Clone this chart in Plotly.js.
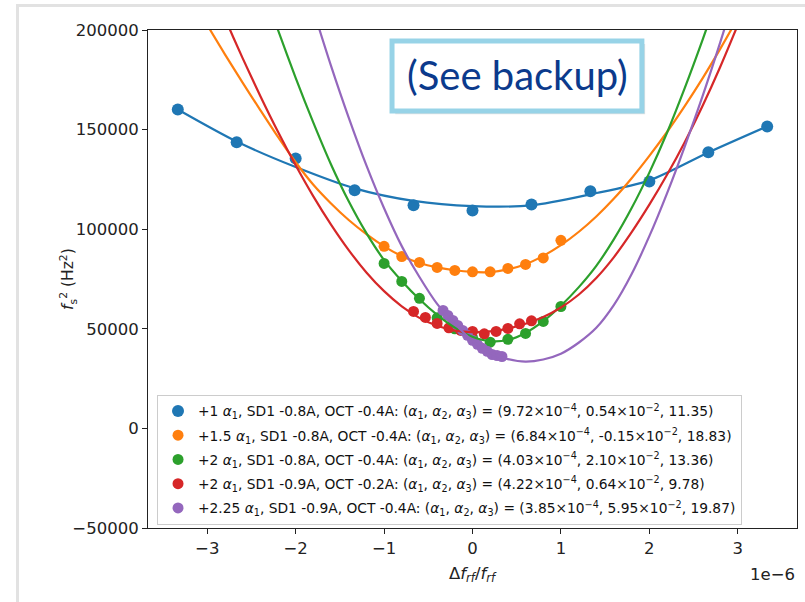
<!DOCTYPE html>
<html>
<head>
<meta charset="utf-8">
<script src="https://cdn.plot.ly/plotly-3.0.1.min.js"></script>
<style>
  html, body { margin: 0; padding: 0; background: #ffffff; }
  #frame { position: absolute; left: 16px; top: 4px; width: 900px; height: 700px;
           border: 3px solid #e2e2e2; box-sizing: border-box; }
  #chart { position: absolute; left: 0; top: 0; width: 805px; height: 602px; }
</style>
</head>
<body>
<div id="frame"></div>
<div id="chart"></div>
<script>
// ---- measured points (x in units of 1e-6) ----
const blueX   = [-3.333, -2.667, -2.0, -1.333, -0.667, 0.0, 0.667, 1.333, 2.0, 2.667, 3.333];
const blueY   = [160100, 143600, 135500, 119500, 112000, 109400, 112400, 119000, 124000, 138600, 151600];

const orangeX = [-1.0, -0.8, -0.6, -0.4, -0.2, 0.0, 0.2, 0.4, 0.6, 0.8, 1.0];
const orangeY = [91400, 86300, 83300, 80800, 79300, 78600, 78600, 80300, 82300, 85600, 94400];

const greenX  = [-1.0, -0.8, -0.6, -0.4, -0.2, 0.0, 0.2, 0.4, 0.6, 0.8, 1.0];
const greenY  = [82800, 73800, 65300, 55500, 50000, 45500, 43300, 44700, 47700, 53700, 61200];

const redX    = [-0.667, -0.533, -0.4, -0.267, -0.133, 0.0, 0.133, 0.267, 0.4, 0.533, 0.667];
const redY    = [58700, 55700, 52700, 50500, 49200, 48700, 47500, 48700, 50200, 52500, 54000];

const purpleX = [-0.333, -0.278, -0.222, -0.167, -0.111, -0.056, 0.0, 0.056, 0.111, 0.167, 0.222, 0.278, 0.333];
const purpleY = [59200, 56700, 54200, 51700, 49200, 46700, 44200, 42200, 40200, 38700, 37100, 36600, 36100];

// ---- fitted curves ----
const blueFitX   = [-3.333, -2.667, -2.0, -1.333, -0.667, 0.0, 0.667, 1.333, 2.0, 2.667, 3.333];
const blueFitY   = [160100, 144000, 131200, 120500, 114200, 111600, 112000, 117500, 124500, 138500, 151600];

const orangeFitX = [-3.0, -2.8, -2.6, -2.4, -2.2, -2.0, -1.8, -1.6, -1.4, -1.2, -1.0, -0.8, -0.6, -0.4, -0.2, 0.0,
                    0.2, 0.4, 0.6, 0.8, 1.0, 1.2, 1.4, 1.6, 1.8, 2.0, 2.2, 2.4, 2.6, 2.8, 3.0];
const orangeFitY = [202500, 187800, 173600, 159800, 146300, 133600, 122300, 112900, 104600, 97500, 91400, 86500, 83000, 80800, 79400, 78600,
                    78400, 79800, 82400, 86600, 92000, 98600, 106400, 115400, 125600, 136800, 148800, 161800, 175600, 190400, 206000];

const greenFitX  = [-2.4, -2.2, -2.0, -1.8, -1.6, -1.4, -1.2, -1.0, -0.8, -0.6, -0.4, -0.2, 0.0,
                    0.2, 0.4, 0.6, 0.8, 1.0, 1.2, 1.4, 1.6, 1.8, 2.0, 2.2, 2.4, 2.6, 2.8];
const greenFitY  = [225000, 200000, 176000, 153500, 132500, 114000, 98000, 84500, 74000, 64800, 57000, 50600, 46000,
                    43800, 44400, 47900, 53800, 61600, 70800, 81600, 95000, 110600, 128400, 148400, 170800, 194800, 220000];

const redFitX    = [-3.0, -2.8, -2.6, -2.4, -2.2, -2.0, -1.8, -1.6, -1.4, -1.2, -1.0, -0.8, -0.6, -0.4, -0.2, 0.0,
                    0.2, 0.4, 0.6, 0.8, 1.0, 1.2, 1.4, 1.6, 1.8, 2.0, 2.2, 2.4, 2.6, 2.8, 3.0];
const redFitY    = [227000, 205900, 185900, 166900, 148900, 132100, 116500, 102300, 89500, 78300, 68900, 61300, 55500, 51500, 49100, 48300,
                    48700, 50100, 52500, 55900, 60700, 67100, 75500, 86000, 98500, 112300, 127300, 143700, 161700, 181300, 202500];

const purpleFitX = [-1.8, -1.6, -1.4, -1.2, -1.0, -0.8, -0.6, -0.4, -0.2, 0.0, 0.2, 0.4, 0.6,
                    0.8, 1.0, 1.2, 1.4, 1.6, 1.8, 2.0, 2.2, 2.4, 2.6, 2.8, 3.0];
const purpleFitY = [210000, 182000, 156000, 132000, 110500, 91500, 76000, 62500, 52500, 44000, 37800, 34800, 33500,
                    34600, 37500, 43000, 50500, 62000, 77500, 96500, 118000, 141500, 166500, 193500, 222000];

// ---- labels ----
const kicks = ["+1", "+1.5", "+2", "+2", "+2.25"];
const sd1   = ["-0.8A", "-0.8A", "-0.8A", "-0.9A", "-0.9A"];
const oct   = ["-0.4A", "-0.4A", "-0.4A", "-0.2A", "-0.4A"];
const a1    = ["9.72", "6.84", "4.03", "4.22", "3.85"];
const a2    = ["0.54", "-0.15", "2.10", "0.64", "5.95"];
const a3    = ["11.35", "18.83", "13.36", "9.78", "19.87"];
const colors = ["#1f77b4", "#ff7f0e", "#2ca02c", "#d62728", "#9467bd"];

const xTickVals = [-3, -2, -1, 0, 1, 2, 3];
const xTickText = ["\u22123", "\u22122", "\u22121", "0", "1", "2", "3"];
const yTickVals = [-50000, 0, 50000, 100000, 150000, 200000];
const yTickText = ["\u221250000", "0", "50000", "100000", "150000", "200000"];

const A = "<i>\u03b1</i>";
function label(i) {
  return kicks[i] + " " + A + "<sub>1</sub>, SD1 " + sd1[i] + ", OCT " + oct[i] + ": (" +
         A + "<sub>1</sub>, " + A + "<sub>2</sub>, " + A + "<sub>3</sub>) = (" +
         a1[i] + "\u00d710<sup>\u22124</sup>, " + a2[i] + "\u00d710<sup>\u22122</sup>, " + a3[i] + ")";
}

const ptsX = [blueX, orangeX, greenX, redX, purpleX];
const ptsY = [blueY, orangeY, greenY, redY, purpleY];
const fitX = [blueFitX, orangeFitX, greenFitX, redFitX, purpleFitX];
const fitY = [blueFitY, orangeFitY, greenFitY, redFitY, purpleFitY];

const traces = [];
for (let i = 0; i < 5; i++) {
  traces.push({
    x: ptsX[i], y: ptsY[i], type: "scatter", mode: "markers",
    name: label(i), legendgroup: "g" + i,
    marker: { color: colors[i], size: i === 0 ? 12 : 11 },
    hoverinfo: "skip"
  });
}
for (let i = 0; i < 5; i++) {
  traces.push({
    x: fitX[i], y: fitY[i], type: "scatter", mode: "lines",
    showlegend: false, legendgroup: "g" + i,
    line: { color: colors[i], width: 2.2, shape: "spline", smoothing: 0.8 },
    hoverinfo: "skip"
  });
}

const axisCommon = {
  showline: true, mirror: true, linecolor: "#222", linewidth: 1,
  ticks: "outside", ticklen: 5, tickcolor: "#222", tickwidth: 1,
  showgrid: false, zeroline: false,
  tickfont: { family: "DejaVu Sans", size: 16.5, color: "#222" }
};

const layout = {
  width: 805, height: 602,
  margin: { l: 148, r: 8, t: 30, b: 74 },
  paper_bgcolor: "rgba(0,0,0,0)", plot_bgcolor: "#ffffff",
  font: { family: "DejaVu Sans", color: "#222" },
  xaxis: Object.assign({}, axisCommon, {
    range: [-3.67, 3.67], tickmode: "array", tickvals: xTickVals, ticktext: xTickText
  }),
  yaxis: Object.assign({}, axisCommon, {
    range: [-50000, 200000], tickmode: "array", tickvals: yTickVals, ticktext: yTickText
  }),
  legend: {
    x: 0.0139, y: 0.007, xanchor: "left", yanchor: "bottom",
    bgcolor: "rgba(255,255,255,0.85)", bordercolor: "#cccccc", borderwidth: 1,
    font: { family: "DejaVu Sans", size: 13.8, color: "#111" },
    tracegroupgap: 3.3
  },
  shapes: [
    { type: "rect", xref: "paper", yref: "paper", x0: 0.381, x1: 0.766, y0: 0.831, y1: 0.972,
      fillcolor: "rgba(0,0,0,0.12)", line: { width: 0 } },
    { type: "rect", xref: "paper", yref: "paper", x0: 0.376, x1: 0.761, y0: 0.8373, y1: 0.9779,
      fillcolor: "#ffffff", line: { color: "#97d3e7", width: 5 } }
  ],
  annotations: [
    { text: "(See backup)", xref: "paper", yref: "paper", x: 0.5686, y: 0.9096,
      xanchor: "center", yanchor: "middle", showarrow: false,
      font: { family: "Lato", size: 40, color: "#0b3a8c" } },
    { text: "\u0394<i>f</i><sub><i>rf</i></sub>/<i>f</i><sub><i>rf</i></sub>", xref: "paper", yref: "paper",
      x: 0.5, y: -0.094, xanchor: "center", yanchor: "middle", showarrow: false,
      font: { family: "DejaVu Sans", size: 16.5, color: "#222" } },
    { text: "<i>f</i><sub>s</sub><sup>2</sup> (Hz<sup>2</sup>)", xref: "paper", yref: "paper",
      x: -0.1233, y: 0.5, xanchor: "center", yanchor: "middle", textangle: -90, showarrow: false,
      font: { family: "DejaVu Sans", size: 15.5, color: "#222" } },
    { text: "1e\u22126", xref: "paper", yref: "paper",
      x: 1.0, y: -0.094, xanchor: "right", yanchor: "middle", showarrow: false,
      font: { family: "DejaVu Sans", size: 16.5, color: "#222" } }
  ]
};

Plotly.newPlot("chart", traces, layout, { displayModeBar: false, staticPlot: true });
</script>
</body>
</html>
